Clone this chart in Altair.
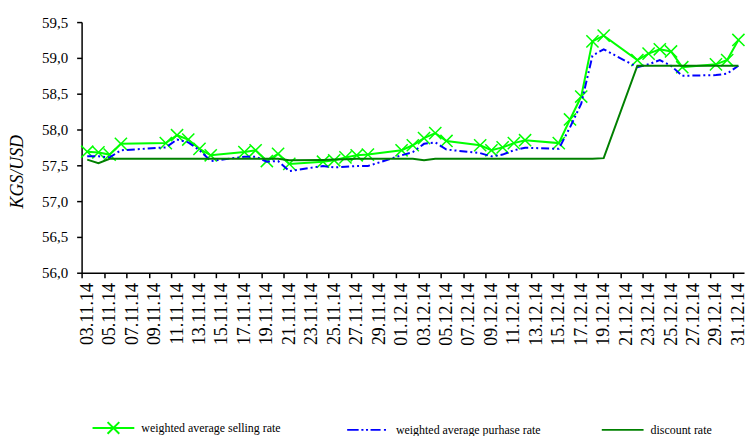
import altair as alt
import pandas as pd

# ---- data ----
dates = ["03.11.14", "04.11.14", "05.11.14", "06.11.14", "10.11.14", "11.11.14", "12.11.14", "13.11.14", "14.11.14",
         "17.11.14", "18.11.14", "19.11.14", "20.11.14", "21.11.14",
         "24.11.14", "25.11.14", "26.11.14", "27.11.14", "28.11.14",
         "01.12.14", "02.12.14", "03.12.14", "04.12.14", "05.12.14",
         "08.12.14", "09.12.14", "10.12.14", "11.12.14", "12.12.14",
         "15.12.14", "16.12.14", "17.12.14", "18.12.14", "19.12.14",
         "22.12.14", "23.12.14", "24.12.14", "25.12.14", "26.12.14",
         "29.12.14", "30.12.14", "31.12.14"]

selling = [57.69, 57.68, 57.65, 57.80, 57.81, 57.92, 57.86, 57.73, 57.64,
           57.685, 57.71, 57.56, 57.66, 57.52,
           57.55, 57.57, 57.61, 57.64, 57.65,
           57.71, 57.78, 57.88, 57.95, 57.84,
           57.78, 57.71, 57.75, 57.81, 57.85,
           57.81, 58.14, 58.46, 59.23, 59.31,
           58.97, 59.06, 59.12, 59.09, 58.87,
           58.91, 58.97, 59.25]

purchase = [57.625, 57.625, 57.61, 57.71, 57.75, 57.86, 57.82, 57.71, 57.56,
            57.62, 57.62, 57.55, 57.56, 57.42,
            57.49, 57.47, 57.48, 57.49, 57.49,
            57.64, 57.685, 57.80, 57.82, 57.72,
            57.67, 57.625, 57.65, 57.71, 57.745,
            57.73, 58.03, 58.36, 59.03, 59.12,
            58.87, 58.91, 58.97, 58.89, 58.75,
            58.76, 58.78, 58.89]

discount = [57.58, 57.53, 57.59, 57.59, 57.59, 57.59, 57.59, 57.59, 57.59,
            57.59, 57.59, 57.59, 57.59, 57.57,
            57.575, 57.58, 57.585, 57.59, 57.59,
            57.59, 57.59, 57.57, 57.59, 57.59,
            57.59, 57.59, 57.59, 57.59, 57.59,
            57.59, 57.59, 57.59, 57.59, 57.60,
            58.89, 58.89, 58.89, 58.89, 58.89,
            58.89, 58.89, 58.89]

series_names = ["weighted average selling rate", "weighted average purhase rate", "discount rate"]
series_colors = ["#00FF00", "#0000FF", "#008000"]
y_ticks = [56.0, 56.5, 57.0, 57.5, 58.0, 58.5, 59.0, 59.5]
x_label_days = list(range(0, 59, 2))

# ---- build table ----
d = pd.to_datetime(pd.Series(dates), format="%d.%m.%y")
day_idx = (d - pd.Timestamp("2014-11-03")).dt.days.tolist()
rows = []
for name, vals in zip(series_names, [selling, purchase, discount]):
    for di, v in zip(day_idx, vals):
        rows.append({"day": di, "value": v, "series": name})
df = pd.DataFrame(rows)

W, H = 666, 252
half_day = W / 59 / 2
FONT = "Liberation Serif"

x = alt.X("day:Q",
          scale=alt.Scale(domain=[-0.5, 58.5], nice=False, zero=False),
          axis=alt.Axis(values=x_label_days,
                        labelExpr="timeFormat(datetime(2014, 10, 3 + datum.value), '%d.%m.%y')",
                        labelAngle=270, labelFont=FONT, labelFontSize=18, labelColor="black",
                        labelPadding=5,
                        tickOffset=-half_day, labelOffset=half_day,
                        labelOverlap=False, labelFlush=False, title=None))
y = alt.Y("value:Q",
          scale=alt.Scale(domain=[56.0, 59.5], nice=False, zero=False),
          axis=alt.Axis(values=y_ticks,
                        labelExpr="replace(format(datum.value, '.1f'), '.', ',')",
                        labelFont=FONT, labelFontSize=15, labelColor="black", labelPadding=9,
                        title="KGS/USD", titleFontStyle="italic", titleFontWeight="normal",
                        titleFontSize=18, titleFont=FONT, titleColor="black",
                        titleX=-59, titleY=150, titleBaseline="alphabetic", titleAngle=270))

base = alt.Chart(df)

sell_line = base.transform_filter(alt.datum.series == series_names[0]).mark_line(
    color=series_colors[0], strokeWidth=2).encode(x=x, y=y)
sell_pts = base.transform_filter(alt.datum.series == series_names[0]).mark_point(
    shape="M-1,-1L1,1M-1,1L1,-1", size=150, filled=False, color=series_colors[0],
    strokeWidth=1.5, opacity=1).encode(x=x, y=y)
purch_line = base.transform_filter(alt.datum.series == series_names[1]).mark_line(
    color=series_colors[1], strokeWidth=2, strokeDash=[8, 3, 2, 3, 2, 3]).encode(x=x, y=y)
disc_line = base.transform_filter(alt.datum.series == series_names[2]).mark_line(
    color=series_colors[2], strokeWidth=2).encode(x=x, y=y)

legend_paths = [
    "M-1,0L1,0M-0.28,-0.28L0.28,0.28M-0.28,0.28L0.28,-0.28",
    "M-1,0L-0.45,0M-0.32,0L-0.22,0M-0.1,0L0,0M0.12,0L0.6,0M0.76,0L0.86,0",
    "M-1,0L1,0",
]
leg = alt.Legend(orient="none", legendX=10, legendY=386, direction="horizontal",
                 columns=3, gridAlign="all", columnPadding=57, title=None,
                 symbolSize=1764, symbolStrokeWidth=2, labelOffset=6,
                 labelFont=FONT, labelFontSize=12, labelColor="black", labelLimit=400)
legend_layer = base.transform_filter(alt.datum.series == "none").mark_point(
    filled=False, strokeWidth=2, opacity=1).encode(
    x=x, y=y,
    color=alt.Color("series:N", scale=alt.Scale(domain=series_names, range=series_colors), legend=leg),
    shape=alt.Shape("series:N", scale=alt.Scale(domain=series_names, range=legend_paths), legend=leg),
)

chart = alt.layer(sell_line, sell_pts, purch_line, disc_line, legend_layer).properties(
    width=W, height=H,
    background="white",
    padding={"left": 74, "top": 13, "right": 3, "bottom": 163},
    autosize=alt.AutoSizeParams(type="none"),
).configure_view(stroke=None).configure_axis(
    grid=False, domainColor="black", domainWidth=1.5, tickColor="black", tickWidth=1.5,
    tickSize=5, labelFont=FONT, labelColor="black",
)

chart.save("out.html", embed_options={"renderer": "svg", "actions": False})
